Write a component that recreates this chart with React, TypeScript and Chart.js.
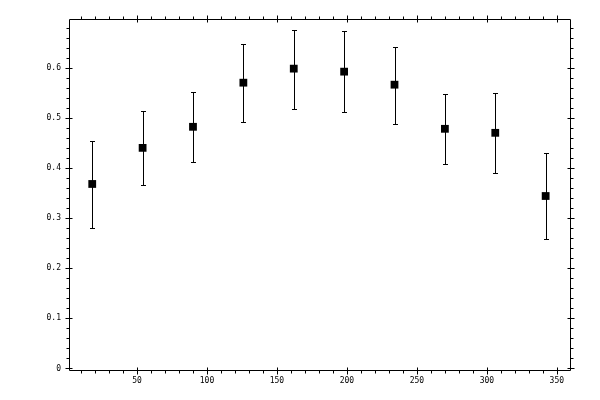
import { useEffect, useRef } from "react";
import { Chart, registerables } from "chart.js";

Chart.register(...registerables);

// bin centres (deg) and measured values with error bounds
const angles = [18, 54, 90, 126, 162, 198, 234, 270, 306, 342];
const values = [0.368, 0.44, 0.482, 0.57, 0.598, 0.592, 0.566, 0.478, 0.47, 0.344];
const upper = [0.453, 0.514, 0.552, 0.647, 0.675, 0.673, 0.641, 0.547, 0.549, 0.43];
const lower = [0.28, 0.366, 0.412, 0.492, 0.518, 0.512, 0.488, 0.408, 0.39, 0.258];

const xTicks = [50, 100, 150, 200, 250, 300, 350];
const yTicks = [0, 0.1, 0.2, 0.3, 0.4, 0.5, 0.6];
const xMinor = [10, 20, 30, 40, 60, 70, 80, 90, 110, 120, 130, 140, 160, 170, 180, 190, 210, 220, 230, 240, 260, 270, 280, 290, 310, 320, 330, 340];
const yMinor = [0.02, 0.04, 0.06, 0.08, 0.12, 0.14, 0.16, 0.18, 0.22, 0.24, 0.26, 0.28, 0.32, 0.34, 0.36, 0.38, 0.42, 0.44, 0.46, 0.48, 0.52, 0.54, 0.56, 0.58, 0.62, 0.64, 0.66, 0.68];

const FONT = "8px 'DejaVu Sans Mono', monospace";

// error bars under the markers
const errorBars = {
  id: "errorBars",
  beforeDatasetsDraw(chart: any) {
    const { ctx, scales } = chart;
    const x = scales.x;
    const y = scales.y;
    ctx.save();
    ctx.strokeStyle = "#000";
    ctx.lineWidth = 1;
    ctx.beginPath();
    angles.forEach((a, i) => {
      const px = Math.round(x.getPixelForValue(a)) + 0.5;
      const top = Math.round(y.getPixelForValue(upper[i])) + 0.5;
      const bot = Math.round(y.getPixelForValue(lower[i])) + 0.5;
      ctx.moveTo(px, top);
      ctx.lineTo(px, bot);
      ctx.moveTo(px - 2.5, top);
      ctx.lineTo(px + 2.5, top);
      ctx.moveTo(px - 2.5, bot);
      ctx.lineTo(px + 2.5, bot);
    });
    ctx.stroke();
    ctx.restore();
  },
};

// frame, ticks on all four sides, labels left/bottom
const frame = {
  id: "frame",
  afterDraw(chart: any) {
    const { ctx, chartArea, scales } = chart;
    const l = chartArea.left + 0.5;
    const r = chartArea.right + 0.5;
    const t = chartArea.top + 0.5;
    const b = chartArea.bottom + 0.5;
    ctx.save();
    ctx.strokeStyle = "#000";
    ctx.lineWidth = 1;
    ctx.beginPath();
    ctx.rect(l, t, r - l, b - t);
    xTicks.forEach((v) => {
      const px = Math.round(scales.x.getPixelForValue(v)) + 0.5;
      ctx.moveTo(px, b - 3);
      ctx.lineTo(px, b + 4);
      ctx.moveTo(px, t + 3);
      ctx.lineTo(px, t - 4);
    });
    xMinor.forEach((v) => {
      const px = Math.round(scales.x.getPixelForValue(v)) + 0.5;
      ctx.moveTo(px, b);
      ctx.lineTo(px, b + 3);
      ctx.moveTo(px, t);
      ctx.lineTo(px, t - 3);
    });
    yTicks.forEach((v) => {
      const py = Math.round(scales.y.getPixelForValue(v)) + 0.5;
      ctx.moveTo(l - 4, py);
      ctx.lineTo(l + 3, py);
      ctx.moveTo(r + 4, py);
      ctx.lineTo(r - 3, py);
    });
    yMinor.forEach((v) => {
      const py = Math.round(scales.y.getPixelForValue(v)) + 0.5;
      ctx.moveTo(l, py);
      ctx.lineTo(l - 3, py);
      ctx.moveTo(r, py);
      ctx.lineTo(r + 3, py);
    });
    ctx.stroke();

    ctx.fillStyle = "#000";
    ctx.font = FONT;
    ctx.textAlign = "right";
    ctx.textBaseline = "middle";
    yTicks.forEach((v) => {
      ctx.fillText(String(v), chartArea.left - 8, scales.y.getPixelForValue(v));
    });
    ctx.textAlign = "center";
    ctx.textBaseline = "middle";
    xTicks.forEach((v) => {
      ctx.fillText(String(v), scales.x.getPixelForValue(v), chartArea.bottom + 11);
    });
    ctx.restore();
  },
};

export default function App() {
  const canvasRef = useRef<HTMLCanvasElement | null>(null);

  useEffect(() => {
    if (!canvasRef.current) return;
    const chart = new Chart(canvasRef.current, {
      type: "scatter",
      data: {
        datasets: [
          {
            data: angles.map((a, i) => ({ x: a, y: values[i] })),
            pointStyle: "rect",
            pointRadius: 5.5,
            pointBorderWidth: 0,
            backgroundColor: "#000",
            borderColor: "#000",
          },
        ],
      },
      options: {
        animation: false,
        responsive: false,
        devicePixelRatio: 1,
        layout: { padding: { left: 69, top: 19, right: 30, bottom: 30 } },
        plugins: { legend: { display: false }, tooltip: { enabled: false } },
        scales: {
          x: { type: "linear", display: false, min: 1.4, max: 359.4 },
          y: { type: "linear", display: false, min: -0.003, max: 0.697 },
        },
      },
      plugins: [errorBars, frame],
    });
    return () => chart.destroy();
  }, []);

  return (
    <div style={{ position: "absolute", left: 0, top: 0, width: 600, height: 400, background: "#fff" }}>
      <canvas ref={canvasRef} width={600} height={400} />
    </div>
  );
}
